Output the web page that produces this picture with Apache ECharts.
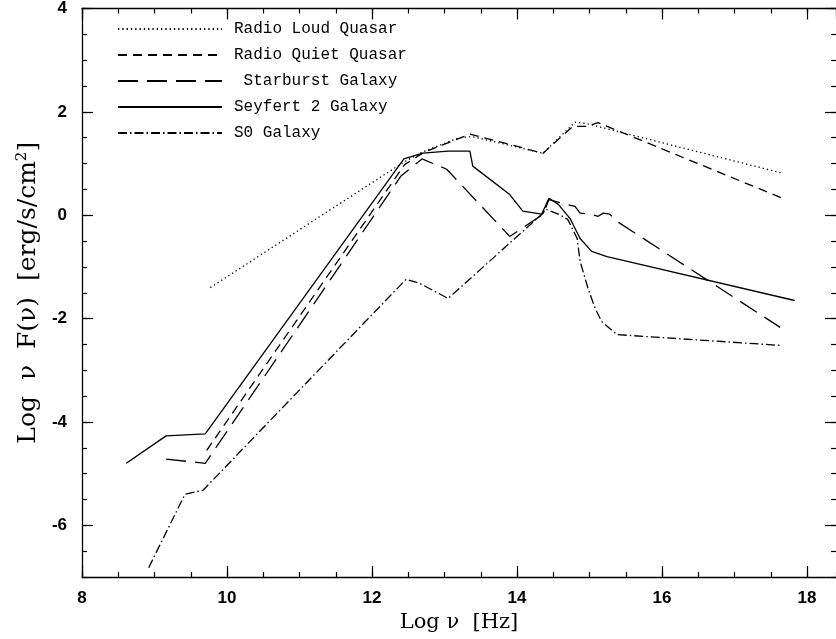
<!DOCTYPE html>
<html>
<head>
<meta charset="utf-8">
<script src="https://cdn.jsdelivr.net/npm/echarts@6/dist/echarts.min.js"></script>
<style>html,body{margin:0;padding:0;background:#fff}#c{width:836px;height:639px}</style>
</head>
<body>
<div id="c"></div>
<script>
// Radio Loud Quasar
var rlqX = [9.77, 12.43, 12.69, 13.2, 13.39, 14.36, 14.8, 14.97, 17.67];
var rlqY = [-1.40, 1.02, 1.22, 1.5, 1.52, 1.2, 1.8, 1.77, 0.81];
// Radio Quiet Quasar
var rqqX = [9.72, 12.45, 12.72, 13.35, 14.36, 14.77, 14.95, 15.12, 17.66];
var rqqY = [-4.55, 0.98, 1.22, 1.57, 1.20, 1.72, 1.72, 1.79, 0.33];
// Starburst Galaxy
var sbX = [9.16, 9.70, 12.40, 12.69, 13.03, 13.90, 14.36, 14.44, 14.69, 14.80, 14.87, 15.01, 15.12, 15.19, 15.28, 15.38, 17.63];
var sbY = [-4.72, -4.80, 0.76, 1.09, 0.89, -0.41, 0.02, 0.30, 0.21, 0.17, 0.04, 0.02, -0.02, 0.04, 0.02, -0.12, -2.17];
// Seyfert 2 Galaxy
var sy2X = [8.61, 9.16, 9.70, 12.44, 12.70, 13.05, 13.35, 13.39, 13.90, 14.08, 14.34, 14.44, 14.57, 14.73, 14.87, 15.03, 15.24, 15.39, 17.83];
var sy2Y = [-4.80, -4.27, -4.23, 1.09, 1.20, 1.24, 1.24, 0.95, 0.40, 0.08, 0.02, 0.33, 0.21, -0.06, -0.45, -0.70, -0.80, -0.85, -1.65];
// S0 Galaxy
var s0X = [8.92, 9.42, 9.67, 12.47, 12.66, 13.05, 14.36, 14.39, 14.57, 14.70, 14.83, 14.87, 14.98, 15.08, 15.17, 15.38, 17.65];
var s0Y = [-6.82, -5.40, -5.32, -1.24, -1.32, -1.61, 0.04, 0.12, 0.02, -0.08, -0.45, -0.89, -1.42, -1.81, -2.06, -2.31, -2.52];

var seriesNames = ['Radio Loud Quasar', 'Radio Quiet Quasar', '\u00a0Starburst Galaxy', 'Seyfert 2 Galaxy', 'S0 Galaxy'];
var xMajorTicks = [8, 10, 12, 14, 16, 18];
var yMajorTicks = [-6, -4, -2, 0, 2, 4];

function pairs(xs, ys) { return xs.map(function (x, i) { return [x, ys[i]]; }); }

var dashTypes = [[1.3, 3], [9, 6], [20, 9], 'solid', [9, 3, 1.5, 3]];
var datasets = [pairs(rlqX, rlqY), pairs(rqqX, rqqY), pairs(sbX, sbY), pairs(sy2X, sy2Y), pairs(s0X, s0Y)];

var XMIN = 8, XMAX = 18.4, YMIN = -7, YMAX = 4;
var black = '#000';

function xAx(pos, major, labels) {
  return {
    type: 'value', position: pos, min: XMIN, max: XMAX,
    interval: major ? 2 : 0.5,
    axisLine: { show: major, onZero: false, lineStyle: { color: black, width: 1.3 } },
    axisTick: { show: true, inside: true, length: major ? 11 : 5, lineStyle: { color: black, width: 1.2 } },
    axisLabel: labels ? {
      show: true, margin: 13, color: black, fontFamily: 'Liberation Sans', fontWeight: 'bold', fontSize: 17,
      formatter: function (v) { return xMajorTicks.indexOf(v) >= 0 ? String(v) : ''; },
      showMaxLabel: false
    } : { show: false },
    splitLine: { show: false },
    name: labels ? 'Log \u03bd  [Hz]' : '',
    nameLocation: 'middle', nameGap: 33,
    nameTextStyle: { fontFamily: 'DejaVu Serif', fontSize: 21, color: black }
  };
}

function yAx(pos, major, labels) {
  var o = {
    type: 'value', position: pos, min: YMIN, max: YMAX, interval: 0.5,
    axisLine: { show: major && pos === 'left', onZero: false, lineStyle: { color: black, width: 1.3 } },
    axisTick: { show: true, inside: true, length: major ? 11 : 5, lineStyle: { color: black, width: 1.2 } },
    axisLabel: { show: false },
    splitLine: { show: false }
  };
  if (major) {
    o.axisTick.customValues = yMajorTicks;
  }
  if (labels) {
    o.axisLabel = {
      show: true, margin: 15, color: black, fontFamily: 'Liberation Sans', fontWeight: 'bold', fontSize: 17,
      customValues: yMajorTicks
    };
    o.name = 'Log  \u03bd  F(\u03bd)  [erg/s/cm{sup|2}]';
    o.nameLocation = 'middle';
    o.nameGap = 38;
    o.nameRotate = 90;
    o.nameTextStyle = {
      fontFamily: 'DejaVu Serif', fontSize: 25, color: black,
      rich: { sup: { fontFamily: 'DejaVu Serif', fontSize: 15, color: black, verticalAlign: 'top', padding: [0, 0, 12, 0] } }
    };
  }
  return o;
}

var chart = echarts.init(document.getElementById('c'), null, { renderer: 'canvas' });
chart.setOption({
  backgroundColor: '#fff',
  animation: false,
  grid: { left: 82, top: 8, right: 0, bottom: 62, containLabel: false },
  legend: {
    orient: 'vertical', left: 117, top: 21, padding: 0,
    itemWidth: 104, itemHeight: 14, itemGap: 10,
    data: seriesNames,
    itemStyle: { opacity: 0, borderWidth: 0 },
    textStyle: { fontFamily: 'Liberation Mono', fontSize: 16, color: black, padding: [0, 0, 0, 7] },
    selectedMode: false
  },
  xAxis: [xAx('bottom', true, true), xAx('bottom', false, false), xAx('top', true, false), xAx('top', false, false)],
  yAxis: [yAx('left', true, true), yAx('left', false, false), yAx('right', true, false), yAx('right', false, false)],
  series: datasets.map(function (d, i) {
    return {
      name: seriesNames[i], type: 'line', data: d, xAxisIndex: 0, yAxisIndex: 0,
      symbol: 'none', smooth: false,
      lineStyle: { color: black, width: 1.3, type: dashTypes[i] },
      itemStyle: { color: black },
      emphasis: { disabled: true }
    };
  })
});
</script>
</body>
</html>
